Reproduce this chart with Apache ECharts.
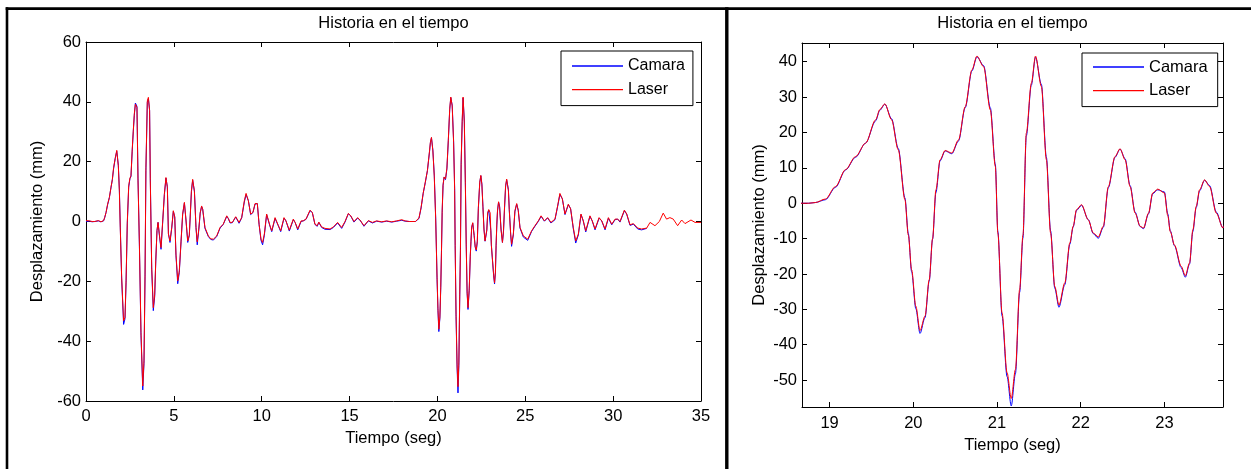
<!DOCTYPE html>
<html><head><meta charset="utf-8">
<script src="https://cdn.jsdelivr.net/npm/echarts@6/dist/echarts.min.js"></script>
<style>html,body{margin:0;padding:0;background:#fff}#c{width:1251px;height:469px}</style>
</head><body><div id="c"></div>
<script>
// ---------------- data ----------------
const time = [
 0.00,0.10,0.20,0.35,0.50,0.70,0.85,1.00,1.06,1.14,
 1.23,1.33,1.42,1.50,1.57,1.66,1.75,1.84,1.90,1.95,
 2.03,2.14,2.22,2.28,2.35,2.43,2.50,2.56,2.63,2.69,
 2.75,2.81,2.90,2.96,3.04,3.13,3.23,3.30,3.36,3.41,
 3.49,3.55,3.62,3.66,3.74,3.83,3.91,3.97,4.04,4.10,
 4.17,4.27,4.36,4.46,4.55,4.63,4.69,4.78,4.88,4.97,
 5.05,5.12,5.22,5.31,5.41,5.50,5.60,5.69,5.79,5.88,
 6.00,6.07,6.17,6.26,6.33,6.42,6.50,6.58,6.64,6.77,
 6.96,7.10,7.25,7.44,7.63,7.81,8.01,8.10,8.20,8.33,
 8.52,8.71,8.86,9.01,9.11,9.24,9.37,9.50,9.62,9.75,
 9.85,9.96,10.05,10.15,10.28,10.38,10.47,10.57,10.76,10.85,
 10.95,11.08,11.27,11.38,11.57,11.80,11.90,12.05,12.24,12.36,
 12.52,12.75,12.88,13.03,13.16,13.25,13.41,13.60,13.89,14.08,
 14.32,14.55,14.74,14.93,15.07,15.25,15.46,15.59,15.82,16.07,
 16.30,16.54,16.83,17.11,17.40,17.68,17.97,18.16,18.40,18.60,
 18.75,18.83,18.95,19.07,19.19,19.31,19.43,19.55,19.60,19.66,
 19.74,19.82,19.90,19.94,19.98,20.03,20.08,20.14,20.19,20.23,
 20.27,20.32,20.38,20.46,20.54,20.62,20.70,20.76,20.84,20.92,
 20.98,21.01,21.06,21.12,21.17,21.22,21.27,21.31,21.35,21.41,
 21.46,21.53,21.59,21.64,21.69,21.74,21.81,21.87,21.91,21.95,
 22.01,22.09,22.15,22.21,22.27,22.33,22.41,22.47,22.53,22.59,
 22.65,22.71,22.75,22.81,22.86,22.92,23.00,23.04,23.07,23.12,
 23.20,23.25,23.30,23.34,23.38,23.42,23.48,23.54,23.62,23.70,
 23.76,23.82,23.88,23.94,24.04,24.09,24.17,24.22,24.32,24.41,
 24.51,24.60,24.70,24.89,25.14,25.36,25.55,25.74,25.90,26.09,
 26.27,26.46,26.69,26.84,26.97,27.11,27.26,27.45,27.58,27.73,
 27.87,28.02,28.17,28.30,28.44,28.68,28.81,28.97,29.20,29.35,
 29.54,29.73,29.92,30.11,30.26,30.39,30.64,30.77,30.96,31.15,
 31.40,31.62,31.91,32.10,32.38,32.63,32.85,33.04,33.23,33.42,
 33.67,33.90,34.09,34.43,34.66,35.00
];
const laser = [
 0.3,0.8,0.2,0.0,0.0,0.3,-0.1,0.3,1.3,3.0,
 5.8,8.0,11.4,14.0,18.0,21.0,23.8,18.6,10.0,-2.0,
 -18.7,-33.2,-32.0,-19.8,-0.3,11.9,14.5,15.3,24.0,30.3,
 36.0,39.2,38.1,13.6,-7.6,-37.1,-55.0,-46.6,-17.6,18.0,
 40.3,41.5,37.0,13.6,-15.4,-28.8,-24.3,-13.1,-3.1,-0.3,
 -4.0,-8.7,-0.3,9.1,14.7,11.4,-4.2,-6.5,-2.0,3.6,
 1.5,-10.9,-19.8,-16.5,-6.5,2.5,6.4,0.5,-6.5,-4.5,
 10.3,14.1,10.0,-2.0,-6.8,-2.5,3.0,5.2,4.1,-2.0,
 -4.8,-5.8,-5.9,-4.8,-2.0,-0.9,1.9,1.0,-0.3,-0.3,
 1.6,-0.3,1.3,6.9,9.4,6.9,2.5,3.0,6.0,6.0,
 -0.9,-5.9,-7.0,-4.2,2.5,2.0,-1.4,-3.1,1.3,1.3,
 -1.4,-3.1,1.3,0.2,-2.9,0.8,-0.3,-2.5,0.2,0.2,
 0.8,3.8,3.0,-0.9,-1.4,-0.2,-1.8,-2.3,-2.5,-1.8,
 -0.3,-2.0,0.0,2.7,1.9,0.0,1.3,0.5,-1.4,0.3,
 -0.3,0.2,-0.1,0.2,-0.1,0.2,0.6,0.2,0.0,0.0,
 0.0,0.2,1.2,4.7,9.5,13.2,17.0,23.6,26.5,28.1,
 23.6,15.1,1.0,-9.0,-18.8,-29.1,-36.0,-31.9,-21.6,-10.0,
 3.8,12.3,14.9,14.2,17.9,27.3,37.7,41.6,38.6,26.4,
 10.4,-8.5,-31.0,-47.9,-55.2,-47.0,-24.4,-9.0,19.8,33.9,
 41.6,33.0,12.3,-8.4,-23.5,-28.8,-22.5,-11.2,-6.5,-1.8,
 -0.4,-4.7,-8.4,-9.5,-6.5,4.7,13.2,15.4,12.3,4.7,
 -2.8,-6.5,-7.0,-2.8,2.9,4.0,2.9,-3.5,-8.0,-11.8,
 -17.8,-20.5,-16.9,-7.5,-0.9,3.8,6.6,4.7,-2.8,-7.0,
 -3.0,5.0,12.0,14.2,10.3,3.6,-4.2,-7.6,-4.2,3.6,
 6.0,3.6,-2.0,-4.8,-5.9,-3.1,-1.4,0.2,1.9,0.2,
 1.3,-0.3,0.8,5.2,9.4,7.5,2.5,5.8,4.2,-2.0,
 -6.5,-4.2,2.5,0.2,-3.1,1.9,0.2,-2.5,1.3,0.2,
 -2.5,1.3,-0.9,0.8,0.8,0.0,3.8,2.5,-1.1,-0.7,
 -2.2,-2.5,-2.2,-0.3,-1.4,0.0,2.8,0.8,1.3,0.8,
 -1.4,0.5,-0.7,0.5,-0.3,-0.3
];
const camara = [
 0.0,0.3,0.1,-0.1,0.0,0.2,-0.1,0.2,1.2,3.0,
 5.6,8.0,11.2,14.0,17.6,21.0,23.5,18.8,10.5,-1.5,
 -19.2,-34.4,-32.5,-20.5,-0.8,11.5,14.3,15.0,23.5,30.0,
 35.5,39.6,38.5,14.5,-8.2,-38.0,-56.3,-47.5,-18.5,17.0,
 39.8,41.0,37.2,14.5,-16.0,-29.8,-25.0,-13.5,-3.0,-0.3,
 -4.3,-9.3,-0.6,9.0,14.5,11.6,-4.0,-7.0,-2.2,3.4,
 1.5,-11.3,-20.8,-17.0,-6.8,2.3,6.2,0.5,-7.0,-4.6,
 10.0,13.8,10.2,-2.0,-7.8,-2.8,2.8,5.0,4.2,-2.3,
 -5.0,-6.0,-6.2,-5.0,-2.2,-1.0,1.7,1.0,-0.5,-0.4,
 1.5,-0.6,1.2,6.5,9.0,7.0,2.3,3.0,5.8,6.0,
 -1.0,-6.3,-7.8,-4.6,2.3,2.0,-1.6,-3.4,1.0,1.3,
 -1.5,-3.4,1.1,0.2,-3.2,0.6,-0.3,-2.8,0.0,0.2,
 0.7,3.6,3.0,-1.0,-1.6,-0.3,-2.0,-2.6,-2.7,-2.0,
 -0.5,-2.3,-0.2,2.6,1.8,-0.2,1.1,0.5,-1.6,0.2,
 -0.5,0.1,-0.2,0.1,-0.2,0.1,0.4,0.1,0.0,0.0,
 0.0,0.2,1.0,4.5,9.4,13.0,17.0,23.3,26.3,28.0,
 23.9,15.5,1.5,-8.5,-19.4,-29.8,-36.8,-32.3,-22.0,-10.2,
 3.0,12.0,14.8,14.0,17.6,27.0,37.4,41.4,38.9,27.0,
 11.0,-8.0,-31.8,-49.0,-57.3,-48.2,-25.2,-9.8,19.0,33.4,
 41.3,33.6,13.0,-7.8,-24.0,-29.4,-23.0,-11.6,-6.7,-2.0,
 -0.6,-4.6,-8.6,-9.9,-6.8,4.4,13.0,15.3,12.6,5.0,
 -2.5,-6.6,-7.2,-3.0,2.7,3.8,3.2,-3.0,-7.8,-12.0,
 -18.2,-20.9,-17.2,-8.0,-1.2,3.5,6.5,5.0,-2.5,-7.0,
 -3.5,4.5,11.6,13.9,10.6,4.0,-4.5,-8.3,-4.5,3.3,
 5.8,3.8,-2.2,-5.2,-6.3,-3.3,-1.6,0.0,1.7,0.1,
 1.2,-0.5,0.6,5.0,9.0,7.6,2.3,5.6,4.3,-2.3,
 -7.2,-4.5,2.3,0.2,-3.5,1.7,0.2,-2.8,1.1,0.2,
 -2.8,1.1,-1.1,0.6,0.8,-0.2,3.6,2.5,-1.3,-0.9,
 -2.5,-2.8,-2.3
];
const seriesNames = ['Camara', 'Laser'];
const seriesColors = ['#0000ff', '#ff0000'];
const titleText = 'Historia en el tiempo';
const xName = 'Tiempo (seg)';
const yName = 'Desplazamiento (mm)';
const xRangeLeft = [0, 35];
const yRangeLeft = [-60, 60];
const xRangeRight = [18.67, 23.70];
const yRangeRight = [-57.6, 45.3];
const xTicksRight = [19, 20, 21, 22, 23];
const yTicksRight = [-50, -40, -30, -20, -10, 0, 10, 20, 30, 40];

// ---------------- chart ----------------
const FONT = "'Liberation Sans', Arial, Helvetica, sans-serif";
const FS = 16.5;
const camaraPts = camara.map((v, i) => [time[i], v]);
const laserPts = laser.map((v, i) => [time[i], v]);

function axis(o) {
  const a = {
    type: 'value', gridIndex: o.grid, position: o.pos, min: o.min, max: o.max,
    axisLine: { show: true, onZero: false, lineStyle: { color: '#000', width: 1 } },
    axisTick: { show: true, inside: true, length: 5, lineStyle: { color: '#000', width: 1 } },
    axisLabel: { show: !!o.labels, color: '#000', fontSize: FS, fontFamily: FONT, margin: o.margin || 6 },
    splitLine: { show: false },
    nameTextStyle: { color: '#000', fontSize: FS, fontFamily: FONT }
  };
  if (o.interval) a.interval = o.interval;
  if (o.custom) { a.axisTick.customValues = o.custom; a.axisLabel.customValues = o.custom; }
  if (o.name) { a.name = o.name; a.nameLocation = 'middle'; a.nameGap = o.nameGap; }
  return a;
}

function series(name, color, pts, xi, yi, smooth) {
  return {
    name, type: 'line', data: pts, xAxisIndex: xi, yAxisIndex: yi,
    symbol: 'none', showSymbol: false, smooth: smooth, smoothMonotone: 'x',
    color: color, itemStyle: { color: color },
    lineStyle: { color: color, width: 1 }, clip: true, animation: false
  };
}

function legend(left, top, pad, fs) {
  return {
    left, top, orient: 'vertical', selectedMode: false,
    data: seriesNames.map(n => ({ name: n, icon: 'rect' })),
    itemWidth: 51, itemHeight: 1.3, itemGap: 5.6,
    padding: pad, borderColor: '#000', borderWidth: 1, backgroundColor: '#fff',
    textStyle: { color: '#000', fontSize: fs, fontFamily: FONT, lineHeight: 18 }
  };
}

const chart = echarts.init(document.getElementById('c'), null, { renderer: 'canvas' });
chart.setOption({
  animation: false,
  backgroundColor: '#fff',
  grid: [
    { left: 86, top: 42, width: 615, height: 359 },
    { left: 802, top: 43, width: 421, height: 364 }
  ],
  xAxis: [
    axis({ grid: 0, pos: 'bottom', min: xRangeLeft[0], max: xRangeLeft[1], interval: 5, labels: true, margin: 7, name: xName, nameGap: 26 }),
    axis({ grid: 0, pos: 'top', min: xRangeLeft[0], max: xRangeLeft[1], interval: 5 }),
    axis({ grid: 1, pos: 'bottom', min: xRangeRight[0], max: xRangeRight[1], custom: xTicksRight, labels: true, margin: 8, name: xName, nameGap: 28 }),
    axis({ grid: 1, pos: 'top', min: xRangeRight[0], max: xRangeRight[1], custom: xTicksRight })
  ],
  yAxis: [
    axis({ grid: 0, pos: 'left', min: yRangeLeft[0], max: yRangeLeft[1], interval: 20, labels: true, margin: 5, name: yName, nameGap: 40 }),
    axis({ grid: 0, pos: 'right', min: yRangeLeft[0], max: yRangeLeft[1], interval: 20 }),
    axis({ grid: 1, pos: 'left', min: yRangeRight[0], max: yRangeRight[1], custom: yTicksRight, labels: true, margin: 5, name: yName, nameGap: 34 }),
    axis({ grid: 1, pos: 'right', min: yRangeRight[0], max: yRangeRight[1], custom: yTicksRight })
  ],
  legend: [
    legend(561, 51, [6, 8, 7, 11], 16),
    legend(1082, 53, [5, 10, 7, 11], 16.5)
  ],
  series: [
    series(seriesNames[0], seriesColors[0], camaraPts, 0, 0, false),
    series(seriesNames[1], seriesColors[1], laserPts, 0, 0, false),
    series(seriesNames[0], seriesColors[0], camaraPts, 2, 2, 0.3),
    series(seriesNames[1], seriesColors[1], laserPts, 2, 2, 0.3)
  ],
  graphic: [
    { type: 'line', silent: true, shape: { x1: 5.7, y1: 8.7, x2: 1251, y2: 8.7 }, style: { stroke: '#000', lineWidth: 2.7 } },
    { type: 'line', silent: true, shape: { x1: 7, y1: 7.3, x2: 7, y2: 469 }, style: { stroke: '#000', lineWidth: 2.6 } },
    { type: 'line', silent: true, shape: { x1: 726.8, y1: 7.3, x2: 726.8, y2: 469 }, style: { stroke: '#000', lineWidth: 3.4 } },
    { type: 'text', silent: true, x: 393.5, y: 23, style: { text: titleText, fill: '#000', font: FS + 'px ' + FONT, textAlign: 'center', textVerticalAlign: 'middle' } },
    { type: 'text', silent: true, x: 1012.5, y: 23.5, style: { text: titleText, fill: '#000', font: FS + 'px ' + FONT, textAlign: 'center', textVerticalAlign: 'middle' } }
  ]
});
</script>
</body></html>
